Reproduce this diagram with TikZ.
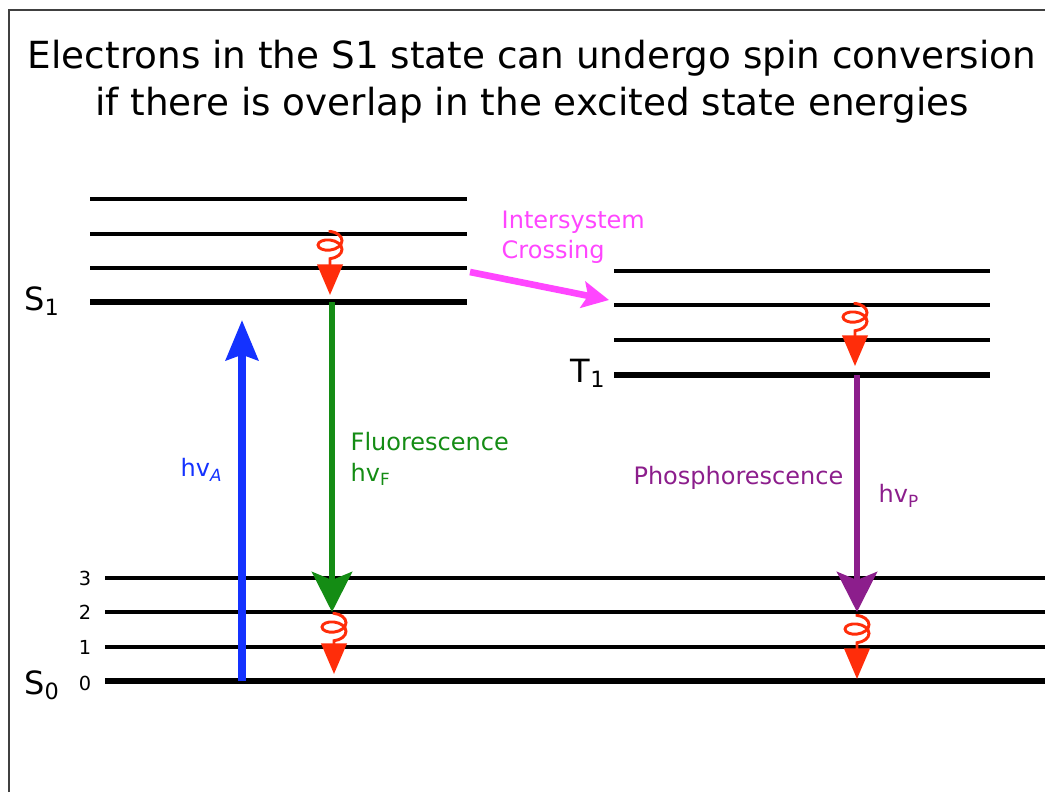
\documentclass[tikz,border=0pt]{standalone}
\usepackage{fontspec}
\setmainfont{DejaVu Sans}
\usetikzlibrary{
    arrows.meta,
    decorations.pathmorphing,
    positioning
}
\definecolor{absblue}{RGB}{20,50,255}
\definecolor{flgreen}{RGB}{20,140,20}
\definecolor{phpurple}{RGB}{140,30,140}
\definecolor{iscpink}{RGB}{255,70,255}
\definecolor{relaxred}{RGB}{255,45,10}
\tikzset{
    level/.style={line width=3.3pt, black},
    lowest/.style={line width=4.2pt, black},
    frame/.style={line width=1.2pt, black!75},
    vibnum/.style={font=\fontsize{14.5}{14.5}\selectfont, anchor=east},
    statelab/.style={font=\fontsize{24}{24}\selectfont},
    lab/.style={font=\fontsize{18}{23}\selectfont, align=left},
    title/.style={font=\fontsize{28}{32}\selectfont},
    absorb/.style={absblue, line width=6pt,
        -{Stealth[length=30pt, width=24pt, inset=4pt]}},
    emit/.style={line width=4.5pt,
        -{Stealth[length=30pt, width=30pt, inset=6pt]}},
    isc/.style={iscpink, line width=5pt,
        -{Stealth[length=20pt, width=20pt, inset=4pt]}},
    relax/.style={relaxred, line width=2.2pt, decorate,
        decoration={coil, aspect=0.6, amplitude=9pt, segment length=6.5pt,
            pre length=1pt, post length=21pt},
        -{Triangle[length=23pt, width=19pt]}}
}

\begin{document}
\begin{tikzpicture}[x=0.75pt, y=-0.75pt]
    \useasboundingbox (0,0) rectangle (1045,792);
    % frame
    \draw[frame] (9,792) -- (9,10) -- (1045,10);
    % title
    \node[title] (title1) at (532,58) {Electrons in the S1 state can undergo spin conversion};
    \node[title] (title2) at (532,105) {if there is overlap in the excited state energies};

    % singlet excited levels
    \foreach \y in {199,234,268}{
        \draw[level] (90,\y) -- (467,\y);
    }
    \draw[lowest] (90,302) -- (467,302);
    \node[statelab] (s1) at (42,301) {S\textsubscript{1}};

    % triplet levels
    \foreach \y in {271,305,340}{
        \draw[level] (614,\y) -- (990,\y);
    }
    \draw[lowest] (614,375) -- (990,375);
    \node[statelab, anchor=east] (t1) at (610,373) {T\textsubscript{1}};

    % ground state levels
    \foreach \y/\v in {578/3,612/2,647/1}{
        \draw[level] (105,\y) -- (1045,\y);
        \node[vibnum] (v\v) at (96,\y) {\v};
    }
    \draw[lowest] (105,681) -- (1045,681);
    \node[vibnum] (v0) at (96,683) {0};
    \node[statelab] (s0) at (42,685) {S\textsubscript{0}};

    % arrow end points
    \coordinate (absA) at (242,681);
    \coordinate (absB) at (242,320);
    \coordinate (flA) at (332,302);
    \coordinate (flB) at (332,612);
    \coordinate (phA) at (857,375);
    \coordinate (phB) at (857,612);
    \coordinate (iscA) at (470,272);
    \coordinate (iscB) at (609,300);
    \coordinate (rs1A) at (330,230);
    \coordinate (rs1B) at (330,295);
    \coordinate (rt1A) at (855,302);
    \coordinate (rt1B) at (855,366);
    \coordinate (rs0A) at (334,612);
    \coordinate (rs0B) at (334,674);
    \coordinate (rs0C) at (857,614);
    \coordinate (rs0D) at (857,679);

    % transitions
    \draw[absorb] (absA) -- (absB);
    \draw[emit, flgreen] (flA) -- (flB);
    \draw[emit, phpurple] (phA) -- (phB);
    \draw[isc] (iscA) -- (iscB);
    \foreach \a/\b in {rs1A/rs1B,rt1A/rt1B,rs0A/rs0B,rs0C/rs0D}{
        \draw[relax] (\a) -- (\b);
    }

    % labels
    \node[lab, absblue, anchor=west] (hva) at (176,470) {hv\textsubscript{\itshape A}};
    \node[lab, flgreen, anchor=north west] (fluor) at (346,428) {Fluorescence\\hv\textsubscript{F}};
    \node[lab, iscpink, anchor=north west] (isclab) at (497,206) {Intersystem\\Crossing};
    \node[lab, phpurple, anchor=east] (phos) at (848,478) {Phosphorescence};
    \node[lab, phpurple, anchor=west] (hvp) at (874,496) {hv\textsubscript{P}};
\end{tikzpicture}
\end{document}
